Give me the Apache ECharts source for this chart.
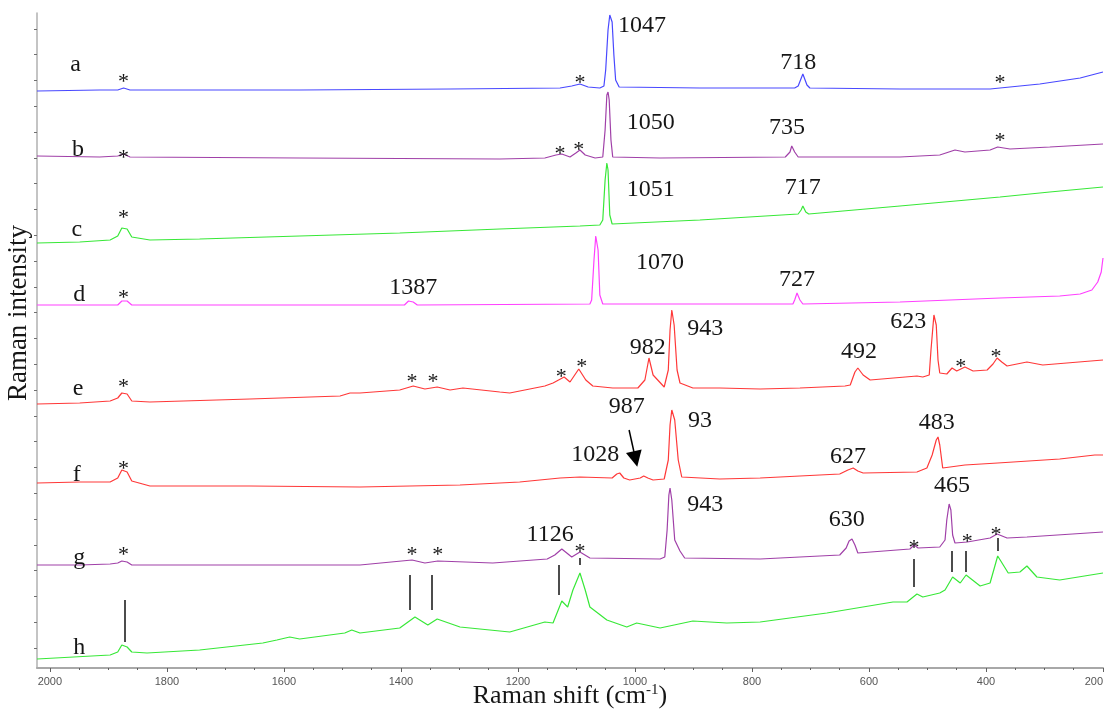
<!DOCTYPE html>
<html>
<head>
<meta charset="utf-8">
<script src="https://cdn.jsdelivr.net/npm/echarts@6/dist/echarts.min.js"></script>
<style>
  html, body { margin: 0; padding: 0; background: #ffffff; }
  #chart { width: 1108px; height: 709px; }
</style>
</head>
<body>
<div id="chart"></div>
<script>
// Raman spectra a–h, stacked with vertical offsets (arbitrary intensity units).
// Each point is [Raman shift (cm-1), intensity].
const specA = [[2022,577],[1915,578],[1884,578],[1874,580],[1863,578],[1573,578],[1316,579],[1128,580],[1108,582],[1094,584],[1080,581],[1060,580],[1053,582],[1050,598],[1046,638],[1043,653],[1041,654],[1039,646],[1036,613],[1033,588],[1027,581],[889,580],[727,580],[721,582],[713,594],[706,583],[701,580],[547,579],[393,579],[376,580],[308,584],[239,590],[200,596]];
const specB = [[2022,512],[1915,511],[1884,512],[1874,514],[1863,511],[1573,510],[1231,509],[1154,510],[1135,513],[1125,514],[1111,511],[1101,515],[1094,518],[1085,513],[1068,510],[1055,511],[1051,538],[1048,573],[1046,576],[1044,568],[1041,528],[1038,511],[957,510],[743,511],[735,516],[732,522],[727,516],[721,511],[547,511],[479,513],[453,518],[436,516],[393,518],[380,521],[359,519],[291,521],[200,524]];
const specC = [[2022,425],[1949,426],[1897,428],[1884,432],[1877,440],[1874,442],[1868,439],[1860,431],[1829,428],[1744,429],[1573,432],[1402,435],[1231,439],[1094,442],[1060,443],[1055,448],[1051,488],[1048,505],[1046,498],[1043,453],[1039,444],[889,448],[721,454],[716,458],[713,462],[708,456],[703,454],[547,462],[376,471],[291,476],[200,481]];
const specD = [[2022,363],[1884,363],[1877,367],[1874,369],[1868,367],[1860,363],[1573,363],[1394,363],[1387,367],[1384,369],[1379,366],[1372,363],[1077,364],[1074,368],[1070,408],[1067,432],[1063,418],[1060,373],[1055,364],[889,364],[730,364],[727,368],[723,375],[718,368],[713,364],[547,366],[376,370],[274,372],[239,374],[219,378],[209,386],[203,396],[200,410]];
const specE = [[2022,264],[1949,265],[1897,267],[1884,270],[1877,275],[1874,277],[1868,274],[1860,267],[1829,266],[1658,269],[1504,272],[1487,275],[1470,275],[1402,278],[1379,282],[1359,279],[1338,281],[1316,278],[1294,280],[1231,276],[1214,275],[1154,282],[1140,285],[1121,291],[1111,286],[1096,299],[1084,288],[1072,282],[1038,280],[995,280],[983,288],[976,310],[969,293],[950,281],[943,298],[940,338],[937,358],[933,343],[928,298],[923,285],[901,280],[855,280],[786,279],[718,280],[641,282],[632,283],[624,296],[619,300],[610,293],[598,288],[518,292],[508,291],[497,293],[494,318],[489,353],[485,343],[482,308],[479,295],[467,294],[458,300],[450,297],[436,301],[422,297],[398,298],[388,304],[381,310],[373,306],[364,302],[330,306],[303,303],[200,308]];
const specF = [[2022,185],[1949,186],[1897,186],[1884,190],[1877,198],[1874,200],[1868,196],[1860,187],[1829,182],[1658,182],[1470,181],[1299,183],[1197,186],[1128,190],[1094,191],[1039,190],[1031,194],[1026,195],[1019,190],[1009,188],[991,190],[985,192],[978,190],[969,188],[950,189],[943,208],[940,243],[937,258],[935,259],[932,248],[926,208],[920,191],[855,189],[786,190],[650,194],[636,198],[627,200],[619,197],[610,195],[518,196],[501,200],[492,213],[485,228],[482,231],[479,223],[474,200],[436,203],[380,205],[274,209],[214,213],[200,213]];
const specG = [[2022,103],[1949,103],[1897,104],[1884,105],[1877,107],[1874,108],[1868,106],[1860,103],[1744,103],[1470,103],[1381,108],[1359,105],[1337,107],[1243,105],[1150,109],[1137,113],[1125,119],[1108,111],[1094,116],[1077,110],[957,109],[949,111],[945,138],[942,173],[940,180],[937,168],[932,128],[923,117],[915,110],[786,109],[650,113],[639,120],[634,127],[629,129],[624,123],[619,115],[530,119],[523,123],[516,120],[479,121],[470,128],[467,148],[463,164],[460,158],[457,133],[453,125],[432,126],[393,130],[381,134],[364,130],[330,131],[200,136]];
const specH = [[2022,9],[1897,13],[1884,16],[1877,23],[1874,25],[1868,21],[1860,16],[1834,15],[1744,18],[1636,25],[1612,28],[1590,31],[1573,29],[1496,35],[1484,38],[1470,35],[1402,40],[1376,51],[1354,43],[1338,49],[1299,41],[1214,36],[1154,46],[1140,45],[1125,67],[1115,61],[1106,78],[1094,95],[1085,78],[1077,61],[1048,48],[1014,41],[997,45],[957,40],[901,47],[843,45],[786,46],[672,55],[559,66],[535,66],[518,74],[508,71],[479,75],[470,78],[457,91],[444,85],[434,93],[410,82],[393,85],[380,112],[362,95],[342,96],[330,102],[313,91],[274,88],[200,95]];

const spectrumNames = ['a', 'b', 'c', 'd', 'e', 'f', 'g', 'h'];
const spectra = [specA, specB, specC, specD, specE, specF, specG, specH];
const spectrumColors = ['#4848ff', '#a040a8', '#38e838', '#ff40ff', '#ff3838', '#ff3838', '#a040a8', '#38e838'];

// Trace letters beside each spectrum: [letter, shift, intensity]
const traceLetters = [['a',1956,603],['b',1952,518],['c',1954,438],['d',1950,373],['e',1952,279],['f',1954,193],['g',1950,110],['h',1950,20]];

// Band positions written above the peaks: [text, shift, intensity]
const peakLabels = [
  ['1047',988,642],['718',721,605],
  ['1050',973,545],['735',740,540],
  ['1051',973,478],['717',713,480],
  ['1070',957,405],['727',723,388],['1387',1379,380],
  ['943',880,339],['982',978,320],['492',617,316],['623',533,346],
  ['987',1014,261],['93',889,247],['1028',1068,213],['627',636,211],['483',484,245],
  ['465',458,182],['630',638,148],['943',880,163],['1126',1145,133]
];

// Asterisks marking bands: [shift, intensity]
const asterisks = [
  [1874,591],[1094,590],[376,590],
  [1874,515],[1128,519],[1096,523],[376,532],
  [1874,455],
  [1874,375],
  [1874,286],[1381,291],[1345,291],[1126,296],[1091,306],[443,306],[383,316],
  [1874,204],
  [1874,118],[1381,118],[1337,118],[1094,121],[523,125],[432,131],[383,138]
];

// Short vertical markers linking bands in g and h: [shift, lower intensity, upper intensity]
const markerLines = [[1872,26,68],[1385,58,93],[1347,58,93],[1130,73,103],[1094,103,110],[523,81,109],[458,96,117],[434,96,117],[380,117,130]];

// Arrow pointing at the weak 987 band of f: [start, end]
const arrow987 = [[1010,238],[999,209]];

// Axis ticks
const xTickLabels = [200, 400, 600, 800, 1000, 1200, 1400, 1600, 1800, 2000];
const yTickValues = [20,45.8,71.6,97.4,123.2,149,174.8,200.6,226.4,252.2,278,303.8,329.6,355.4,381.2,407,432.8,458.6,484.4,510.2,536,561.8,587.6,613.4,639.2];

const serif = "'Liberation Serif', 'DejaVu Serif', serif";
const textColor = '#161616';

const chart = echarts.init(document.getElementById('chart'), null, { renderer: 'canvas' });

const series = spectra.map((pts, i) => ({
  name: spectrumNames[i],
  type: 'line',
  data: pts,
  symbol: 'none',
  lineStyle: { color: spectrumColors[i], width: 1.2 },
  z: 2,
  silent: true
}));

// Text placed at data coordinates, centred on the point
function textSeries(name, items, fontSize, dy) {
  return {
    name,
    type: 'custom',
    silent: true,
    clip: false,
    z: 5,
    data: items.map(it => [it[1], it[2]]),
    renderItem: (params, api) => {
      const p = api.coord([api.value(0), api.value(1)]);
      return {
        type: 'text',
        x: p[0],
        y: p[1] + dy,
        style: {
          text: items[params.dataIndex][0],
          fill: textColor,
          font: fontSize + 'px ' + serif,
          align: 'center',
          verticalAlign: 'middle'
        }
      };
    }
  };
}

series.push(textSeries('letters', traceLetters, 24, 0));
series.push(textSeries('peaks', peakLabels, 24, 0));
series.push(textSeries('asterisks', asterisks.map(p => ['*', p[0], p[1]]), 22, 5));

series.push({
  name: 'markers',
  type: 'lines',
  coordinateSystem: 'cartesian2d',
  silent: true,
  z: 4,
  symbol: ['none', 'none'],
  lineStyle: { color: '#111', width: 1.5, opacity: 1 },
  data: markerLines.map(m => ({ coords: [[m[0], m[1]], [m[0], m[2]]] }))
});

series.push({
  name: 'arrow',
  type: 'lines',
  coordinateSystem: 'cartesian2d',
  silent: true,
  z: 4,
  symbol: ['none', 'triangle'],
  symbolSize: [14, 16],
  lineStyle: { color: '#000', width: 1.5, opacity: 1 },
  itemStyle: { color: '#000' },
  data: [{ coords: arrow987 }]
});

chart.setOption({
  animation: false,
  backgroundColor: '#ffffff',
  grid: { left: 37, right: 5, top: 13, bottom: 41, containLabel: false, outerBoundsMode: 'none' },
  graphic: [{
    type: 'text',
    x: 32,
    y: 313,
    rotation: Math.PI / 2,
    silent: true,
    style: {
      text: 'Raman intensity',
      fill: textColor,
      font: '27px ' + serif,
      align: 'center',
      verticalAlign: 'bottom'
    }
  }],
  xAxis: {
    type: 'value',
    inverse: true,
    min: 200,
    max: 2022,
    interval: 200,
    name: 'Raman shift (cm{sup|-1})',
    nameLocation: 'middle',
    nameGap: 15,
    nameMoveOverlap: false,
    nameTextStyle: {
      fontFamily: serif, fontSize: 26, color: textColor,
      rich: { sup: { fontFamily: serif, fontSize: 15, color: textColor, verticalAlign: 'top', padding: [0, 0, 12, 0] } }
    },
    axisLine: { show: true, lineStyle: { color: '#a8a8a8', width: 2 } },
    axisTick: { show: true, length: 4, lineStyle: { color: '#606060', width: 1 }, customValues: xTickLabels },
    minorTick: { show: true, splitNumber: 4, length: 2, lineStyle: { color: '#606060', width: 1 } },
    axisLabel: {
      customValues: xTickLabels,
      formatter: v => String(v),
      alignMinLabel: 'right',
      fontFamily: "'Liberation Sans', Arial, sans-serif", fontSize: 11, color: '#555', margin: 8
    },
    splitLine: { show: false }
  },
  yAxis: {
    type: 'value',
    min: 0,
    max: 655,
    axisLine: { show: true, lineStyle: { color: '#b0b0b0', width: 1.5 } },
    axisTick: { show: true, length: 3, inside: false, lineStyle: { color: '#707070', width: 1 }, customValues: yTickValues },
    axisLabel: { show: false },
    splitLine: { show: false }
  },
  series
});
</script>
</body>
</html>
